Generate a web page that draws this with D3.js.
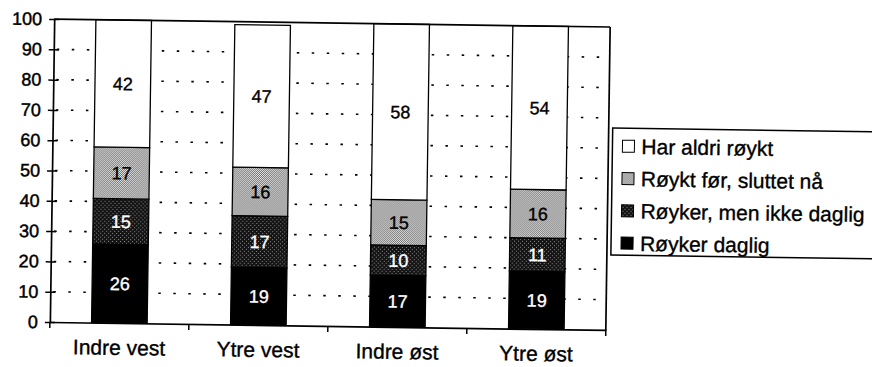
<!DOCTYPE html>
<html>
<head>
<meta charset="utf-8">
<script src="https://cdn.jsdelivr.net/npm/d3@7"></script>
<style>
  html, body { margin: 0; padding: 0; background: #fff; }
  svg { display: block; font-family: "Liberation Sans", Arial, Helvetica, sans-serif; }
</style>
</head>
<body>
<svg id="chart" width="872" height="367"></svg>
<script>
// Røykevaner etter region (prosent)
const categories = ["Indre vest", "Ytre vest", "Indre øst", "Ytre øst"];
const royker_daglig = [26, 19, 17, 19];
const royker_ikke_daglig = [15, 17, 10, 11];
const roykt_for = [17, 16, 15, 16];
const aldri_roykt = [42, 47, 58, 54];
const yTicks = [0, 10, 20, 30, 40, 50, 60, 70, 80, 90, 100];

// stacking order: bottom to top
const series = [
  { key: "Røyker daglig", values: royker_daglig, fill: "#000", text: "#fff" },
  { key: "Røyker, men ikke daglig", values: royker_ikke_daglig, fill: "url(#pat-dark)", text: "#fff" },
  { key: "Røykt før, sluttet nå", values: roykt_for, fill: "url(#pat-light)", text: "#000" },
  { key: "Har aldri røykt", values: aldri_roykt, fill: "#fff", text: "#000" }
];

const svg = d3.select("#chart");
const defs = svg.append("defs");

// light dotted fill
const pl = defs.append("pattern").attr("id", "pat-light")
  .attr("patternUnits", "userSpaceOnUse").attr("width", 2).attr("height", 2);
pl.append("rect").attr("width", 2).attr("height", 2).attr("fill", "#e6e6e6");
pl.append("rect").attr("x", 0).attr("y", 0).attr("width", 1).attr("height", 1).attr("fill", "#707070");
pl.append("rect").attr("x", 1).attr("y", 1).attr("width", 1).attr("height", 1).attr("fill", "#707070");

// dark speckled fill
const pd = defs.append("pattern").attr("id", "pat-dark")
  .attr("patternUnits", "userSpaceOnUse").attr("width", 4).attr("height", 4);
pd.append("rect").attr("width", 4).attr("height", 4).attr("fill", "#141414");
pd.append("rect").attr("x", 1).attr("y", 0).attr("width", 1).attr("height", 1).attr("fill", "#8a8a8a");
pd.append("rect").attr("x", 3).attr("y", 2).attr("width", 1).attr("height", 1).attr("fill", "#8a8a8a");

const plot = { left: 52, right: 608, top: 23, bottom: 326 };

const root = svg.append("g").attr("transform", "rotate(0.82, 330, 175)");

const x = d3.scaleBand().domain(categories).range([plot.left, plot.right]).padding(0);
const y = d3.scaleLinear().domain([0, 100]).range([plot.bottom, plot.top]);

// dotted gridlines
root.append("g").selectAll("line")
  .data(yTicks.filter(t => t > 0 && t < 100))
  .join("line")
  .attr("x1", plot.left + 3).attr("x2", plot.right)
  .attr("y1", d => y(d)).attr("y2", d => y(d))
  .attr("stroke", "#000").attr("stroke-width", 1.6)
  .attr("stroke-dasharray", "2.5,12.5");

// stacked bars
const barW = x.bandwidth() * 0.4;
const stacked = categories.map((c, i) => {
  let acc = 0;
  return series.map(s => {
    const v = s.values[i];
    const seg = { cat: c, key: s.key, v, y0: acc, y1: acc + v, fill: s.fill, text: s.text };
    acc += v;
    return seg;
  });
}).flat();

const bars = root.append("g");
bars.selectAll("rect")
  .data(stacked)
  .join("rect")
  .attr("x", d => x(d.cat) + (x.bandwidth() - barW) / 2)
  .attr("width", barW)
  .attr("y", d => y(d.y1))
  .attr("height", d => y(d.y0) - y(d.y1))
  .attr("fill", d => d.fill)
  .attr("stroke", "#000").attr("stroke-width", 1.3);

bars.selectAll("text")
  .data(stacked)
  .join("text")
  .attr("x", d => x(d.cat) + x.bandwidth() / 2)
  .attr("y", d => y((d.y0 + d.y1) / 2))
  .attr("dy", "0.36em")
  .attr("text-anchor", "middle")
  .attr("font-size", 18)
  .attr("fill", d => d.text)
  .attr("stroke", d => d.text).attr("stroke-width", 0.35)
  .text(d => d.v);

// plot area frame (top and right)
root.append("line")
  .attr("x1", plot.left).attr("x2", plot.right)
  .attr("y1", y(100)).attr("y2", y(100))
  .attr("stroke", "#000").attr("stroke-width", 1.7);
root.append("line")
  .attr("x1", plot.right).attr("x2", plot.right)
  .attr("y1", y(100)).attr("y2", y(0))
  .attr("stroke", "#000").attr("stroke-width", 1.7);

// y axis with crossing tick marks
const yAxis = root.append("g")
  .attr("transform", `translate(${plot.left},0)`)
  .call(d3.axisLeft(y).tickValues(yTicks).tickSize(5).tickSizeOuter(0).tickPadding(7));
yAxis.select(".domain").attr("stroke", "#000").attr("stroke-width", 1.7);
yAxis.selectAll(".tick line").attr("stroke", "#000").attr("stroke-width", 1.5);
yAxis.selectAll(".tick").append("line")
  .attr("x1", 0).attr("x2", 5).attr("stroke", "#000").attr("stroke-width", 1.5);
yAxis.selectAll(".tick text").attr("font-size", 18).attr("fill", "#000")
  .attr("stroke", "#000").attr("stroke-width", 0.45)
  .attr("font-family", "'Liberation Sans', Arial, sans-serif");

// x axis: labels centred in each category, ticks on category boundaries
const xAxis = root.append("g")
  .attr("transform", `translate(0,${plot.bottom})`)
  .call(d3.axisBottom(x).tickSize(0).tickPadding(17));
xAxis.select(".domain").attr("stroke", "#000").attr("stroke-width", 1.7);
xAxis.selectAll(".tick text").attr("font-size", 21).attr("fill", "#000")
  .attr("stroke", "#000").attr("stroke-width", 0.35)
  .attr("font-family", "'Liberation Sans', Arial, sans-serif");
const bounds = categories.map(c => x(c)).concat([x(categories[categories.length - 1]) + x.bandwidth()]);
xAxis.append("g").selectAll("line")
  .data(bounds)
  .join("line")
  .attr("x1", d => d).attr("x2", d => d)
  .attr("y1", 0).attr("y2", 6)
  .attr("stroke", "#000").attr("stroke-width", 1.5);

// legend, top entry first
const legend = root.append("g").attr("transform", "translate(612,124)");
legend.append("rect")
  .attr("width", 290).attr("height", 127)
  .attr("fill", "#fff").attr("stroke", "#000").attr("stroke-width", 1.5);
const legendItems = series.slice().reverse();
const li = legend.selectAll("g.item")
  .data(legendItems)
  .join("g").attr("class", "item")
  .attr("transform", (d, i) => `translate(10,${18 + i * 32.3})`);
li.append("rect")
  .attr("x", 0).attr("y", -6).attr("width", 12).attr("height", 12)
  .attr("fill", d => d.fill).attr("stroke", "#000").attr("stroke-width", 1);
li.append("text")
  .attr("x", 19).attr("dy", "0.36em")
  .attr("font-size", 21).attr("fill", "#000")
  .attr("stroke", "#000").attr("stroke-width", 0.35)
  .text(d => d.key);
</script>
</body>
</html>
